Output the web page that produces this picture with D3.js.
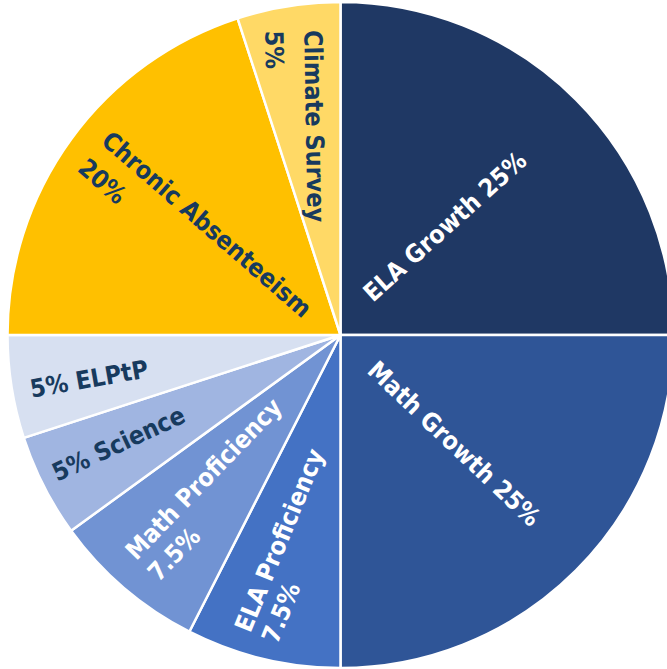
<!DOCTYPE html>
<html>
<head>
<meta charset="utf-8">
<script src="https://cdn.jsdelivr.net/npm/d3@7/dist/d3.min.js"></script>
<style>
  html, body { margin: 0; padding: 0; background: #ffffff; overflow: hidden; }
  svg { display: block; }
  text { font-family: "DejaVu Sans Condensed", "DejaVu Sans", sans-serif; font-stretch: condensed; font-weight: bold; }
</style>
</head>
<body>
<svg id="chart" width="667" height="669"></svg>
<script>
// ---- data ----
const categories = ["ELA Growth", "Math Growth", "ELA Proficiency", "Math Proficiency",
                    "Science", "ELPtP", "Chronic Absenteeism", "Climate Survey"];
const values = [25, 25, 7.5, 7.5, 5, 5, 20, 5];
const labelLines = [
  ["ELA Growth 25%"],
  ["Math Growth 25%"],
  ["ELA Proficiency", "7.5%"],
  ["Math Proficiency", "7.5%"],
  ["5% Science"],
  ["5% ELPtP"],
  ["Chronic Absenteeism", "20%"],
  ["Climate Survey", "5%"]
];

// ---- styles / layout ----
const sliceColors = ["#1f3864", "#2f5597", "#4472c4", "#7193d3", "#a0b5e1", "#d7e0f1", "#ffc000", "#ffd966"];
const textColors = ["#ffffff", "#ffffff", "#ffffff", "#ffffff", "#173a5e", "#173a5e", "#173a5e", "#173a5e"];
// label placement: fraction along slice angle, radius, rotation, line gap
const labelLayout = [
  { t: 0.504, r: 45.6, rot: -42,   gap: 0 },
  { t: 0.616, r: 45,   rot: 43.5,  gap: 0 },
  { t: 0.622, r: 312,  rot: -67.6, gap: 29 },
  { t: 0.559, r: 304.8,rot: -46,   gap: 31 },
  { t: 0.478, r: 319,  rot: -25,   gap: 0 },
  { t: 0.361, r: 315,  rot: -10,   gap: 0 },
  { t: 0.536, r: 307.7,rot: 41,    gap: 36 },
  { t: 0.622, r: 307,  rot: 89,    gap: 39 }
];

const width = 667, height = 669;
const cx = 340.5, cy = 335, R = 333;
const fontSize = 25;

const svg = d3.select("#chart");
const g = svg.append("g").attr("transform", `translate(${cx},${cy})`);

const data = categories.map((c, i) => ({ name: c, value: values[i], idx: i }));
const pie = d3.pie().sort(null).value(d => d.value);
const arcs = pie(data);
const arc = d3.arc().innerRadius(0).outerRadius(R);

g.selectAll("path.slice")
  .data(arcs)
  .join("path")
  .attr("class", "slice")
  .attr("d", arc)
  .attr("fill", d => sliceColors[d.data.idx])
  .attr("stroke", "#ffffff")
  .attr("stroke-width", 2.5)
  .attr("stroke-linejoin", "round");

const labels = g.selectAll("text.label")
  .data(arcs)
  .join("text")
  .attr("class", "label")
  .attr("font-size", fontSize)
  .attr("fill", d => textColors[d.data.idx])
  .attr("text-anchor", "start")
  .attr("transform", d => {
    const L = labelLayout[d.data.idx];
    const a = d.startAngle + L.t * (d.endAngle - d.startAngle);
    const x = L.r * Math.sin(a);
    const y = -L.r * Math.cos(a);
    return `translate(${x},${y}) rotate(${L.rot})`;
  });

labels.each(function(d) {
  const L = labelLayout[d.data.idx];
  const sel = d3.select(this);
  labelLines[d.data.idx].forEach((line, k) => {
    sel.append("tspan")
      .attr("x", 0)
      .attr("y", k * L.gap)
      .text(line);
  });
});
</script>
</body>
</html>
